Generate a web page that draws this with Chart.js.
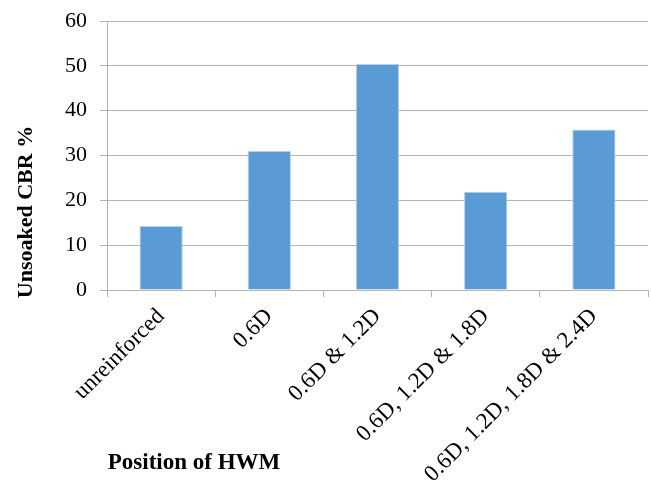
<!DOCTYPE html>
<html>
<head>
<meta charset="utf-8">
<script src="https://cdn.jsdelivr.net/npm/chart.js@4"></script>
<style>
  html, body { margin: 0; padding: 0; background: #fff; }
  #wrap { position: relative; width: 651px; height: 480px; }
</style>
</head>
<body>
<div id="wrap"><canvas id="cbrChart"></canvas></div>
<script>
// categories and unsoaked CBR values
const positions = ['unreinforced', '0.6D', '0.6D & 1.2D', '0.6D, 1.2D & 1.8D', '0.6D, 1.2D, 1.8D & 2.4D'];
const cbrValues = [14.3, 31.0, 50.4, 21.9, 35.8];
const yTicks = [0, 10, 20, 30, 40, 50, 60];

const serif = "'Liberation Serif', 'Times New Roman', serif";
const gridGray = '#b4b4b4';

// axis titles drawn by hand so they sit where we want them
const axisTitles = {
  id: 'axisTitles',
  afterDraw(chart) {
    const ctx = chart.ctx;
    ctx.save();
    ctx.fillStyle = '#000';
    ctx.textAlign = 'center';
    ctx.textBaseline = 'middle';
    ctx.font = 'bold 22px ' + serif;
    ctx.translate(26, 212);
    ctx.rotate(-Math.PI / 2);
    ctx.fillText('Unsoaked CBR %', 0, 0);
    ctx.restore();

    ctx.save();
    ctx.fillStyle = '#000';
    ctx.textAlign = 'center';
    ctx.textBaseline = 'middle';
    ctx.font = 'bold 23px ' + serif;
    ctx.fillText('Position of HWM', 194, 463);
    ctx.restore();
  }
};

const ctx = document.getElementById('cbrChart').getContext('2d');
const cbrChart = new Chart(ctx, {
  type: 'bar',
  data: {
    labels: positions,
    datasets: [{
      data: cbrValues,
      backgroundColor: '#5b9bd5',
      borderColor: '#b4d0ee',
      borderWidth: 1,
      barPercentage: 0.4,
      categoryPercentage: 1
    }]
  },
  options: {
    responsive: true,
    maintainAspectRatio: false,
    animation: false,
    layout: { padding: { top: 21, right: 3, bottom: 0, left: 0 } },
    plugins: {
      legend: { display: false },
      tooltip: { enabled: false }
    },
    scales: {
      x: {
        grid: {
          display: true,
          drawOnChartArea: false,
          drawTicks: true,
          tickLength: 7,
          color: gridGray,
          lineWidth: 1
        },
        border: { display: true, color: gridGray, width: 1 },
        ticks: {
          autoSkip: false,
          minRotation: 45,
          maxRotation: 45,
          padding: 6,
          color: '#000',
          font: { family: serif, size: 23 }
        },
        afterFit(scale) {
          scale.height = 190;
          scale.paddingLeft = 0;
          scale.paddingRight = 0;
        }
      },
      y: {
        min: 0,
        max: 60,
        afterBuildTicks(scale) {
          scale.ticks = yTicks.map(v => ({ value: v }));
        },
        grid: {
          color: gridGray,
          lineWidth: 1,
          drawTicks: true,
          tickLength: 7
        },
        border: { display: true, color: gridGray, width: 1 },
        ticks: {
          padding: 13,
          color: '#000',
          font: { family: serif, size: 22 }
        },
        afterFit(scale) {
          scale.width = 107;
          scale.paddingTop = 0;
          scale.paddingBottom = 0;
        }
      }
    }
  },
  plugins: [axisTitles]
});
</script>
</body>
</html>
